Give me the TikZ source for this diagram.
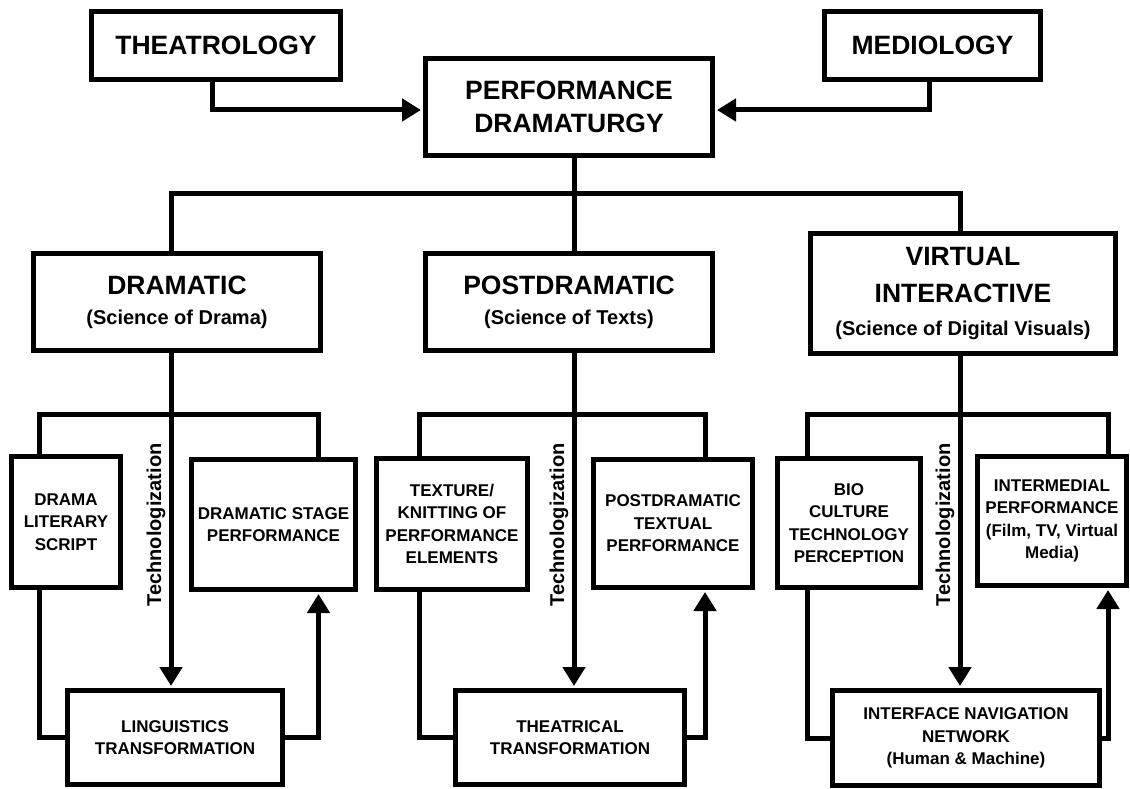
\documentclass[tikz,border=0pt]{standalone}
\usepackage{fontspec}
\setmainfont{Liberation Sans}
\usetikzlibrary{arrows.meta}

\newcommand\subsize{\fontsize{20}{24}\selectfont}

\begin{document}
\begin{tikzpicture}[x=1pt, y=-1pt,
  box/.style={draw, line width=5pt, rectangle, inner sep=0pt, align=center},
  topbox/.style={box, font=\bfseries\fontsize{26.5}{33}\selectfont},
  leafbox/.style={box, font=\bfseries\fontsize{17}{22.5}\selectfont},
  techlabel/.style={rotate=90, anchor=base, font=\bfseries\fontsize{20}{24}\selectfont},
  link/.style={line width=5pt},
  arr/.style={line width=5pt, -{Triangle[length=19pt,width=22pt]}, shorten >=2pt}]

  \useasboundingbox (0,0) rectangle (1130,789);

  % column positions
  \coordinate (tA) at (212,0);
  \coordinate (mA) at (929,0);
  \coordinate (jA) at (171,0);
  \coordinate (jB) at (574,0);
  \coordinate (jC) at (960,0);
  \coordinate (lA) at (39,0);
  \coordinate (rA) at (318.5,0);
  \coordinate (lB) at (419,0);
  \coordinate (rB) at (705,0);
  \coordinate (lC) at (807.5,0);
  \coordinate (rC) at (1108,0);
  \coordinate (busY) at (0,193);
  \coordinate (subY) at (0,414);

  % top row
  \node[topbox, minimum width=249pt, minimum height=68pt] (theat) at (216,45.5) {THEATROLOGY};
  \node[topbox, minimum width=216pt, minimum height=68pt] (medio) at (932.5,45.5) {MEDIOLOGY};
  \node[topbox, minimum width=287pt, minimum height=97pt] (perf) at (569,107) {PERFORMANCE\\DRAMATURGY};

  % three branches
  \node[topbox, minimum width=287pt, minimum height=97pt] (dram) at (177,302)
    {DRAMATIC\\[-3pt]{\subsize (Science of Drama)}};
  \node[topbox, minimum width=287pt, minimum height=97pt] (post) at (569,302)
    {POSTDRAMATIC\\[-3pt]{\subsize (Science of Texts)}};
  \node[topbox, minimum width=305pt, minimum height=120pt] (virt) at (963,293.5)
    {VIRTUAL\\[4pt]INTERACTIVE\\{\subsize (Science of Digital Visuals)}};

  % leaves
  \node[leafbox, minimum width=109pt, minimum height=131pt] (lit) at (66,522) {DRAMA\\LITERARY\\SCRIPT};
  \node[leafbox, minimum width=164pt, minimum height=130pt] (stage) at (273.5,524.5) {DRAMATIC STAGE\\PERFORMANCE};
  \node[leafbox, minimum width=151pt, minimum height=131pt] (texture) at (452,524) {TEXTURE/\\KNITTING OF\\PERFORMANCE\\ELEMENTS};
  \node[leafbox, minimum width=159pt, minimum height=128pt] (ptext) at (673,523.5) {POSTDRAMATIC\\TEXTUAL\\PERFORMANCE};
  \node[leafbox, minimum width=143pt, minimum height=129pt] (bio) at (849,523) {BIO\\CULTURE\\TECHNOLOGY\\PERCEPTION};
  \node[leafbox, minimum width=149pt, minimum height=129pt] (inter) at (1052,521) {INTERMEDIAL\\PERFORMANCE\\(Film, TV, Virtual\\Media)};

  % bottom row
  \node[leafbox, minimum width=215pt, minimum height=94pt] (ling) at (175,737.5) {LINGUISTICS\\TRANSFORMATION};
  \node[leafbox, minimum width=229pt, minimum height=94pt] (theatr) at (570,737.5) {THEATRICAL\\TRANSFORMATION};
  \node[leafbox, minimum width=267pt, minimum height=95pt] (iface) at (966,738) {INTERFACE NAVIGATION\\NETWORK\\(Human \& Machine)};

  % feeds into the centre
  \draw[arr] (theat.south -| tA) |- ([yshift=-3pt]perf.west);
  \draw[arr] (medio.south -| mA) |- ([yshift=-3pt]perf.east);

  % main bus
  \draw[link] (dram.north -| jA) |- (jB |- busY) -| (virt.north -| jC);
  \draw[link] (perf.south -| jB) -- (post.north -| jB);

  % sub buses
  \draw[link] (lit.north -| lA) |- (jA |- subY) -| (stage.north -| rA);
  \draw[link] (texture.north -| lB) |- (jB |- subY) -| (ptext.north -| rB);
  \draw[link] (bio.north -| lC) |- (jC |- subY) -| (inter.north -| rC);

  % technologization
  \draw[arr] (dram.south -| jA) -- (ling.north -| jA);
  \draw[arr] (post.south -| jB) -- (theatr.north -| jB);
  \draw[arr] (virt.south -| jC) -- (iface.north -| jC);
  \node[techlabel] (techA) at (161,525) {Technologization};
  \node[techlabel] (techB) at (564,525) {Technologization};
  \node[techlabel] (techC) at (950,525) {Technologization};

  % loops back up
  \draw[link] (lit.south -| lA) |- (ling.west);
  \draw[arr] (ling.east) -| (stage.south -| rA);
  \draw[link] (texture.south -| lB) |- (theatr.west);
  \draw[arr] (theatr.east) -| (ptext.south -| rB);
  \draw[link] (bio.south -| lC) |- (iface.west);
  \draw[arr] (iface.east) -| (inter.south -| rC);

\end{tikzpicture}
\end{document}
